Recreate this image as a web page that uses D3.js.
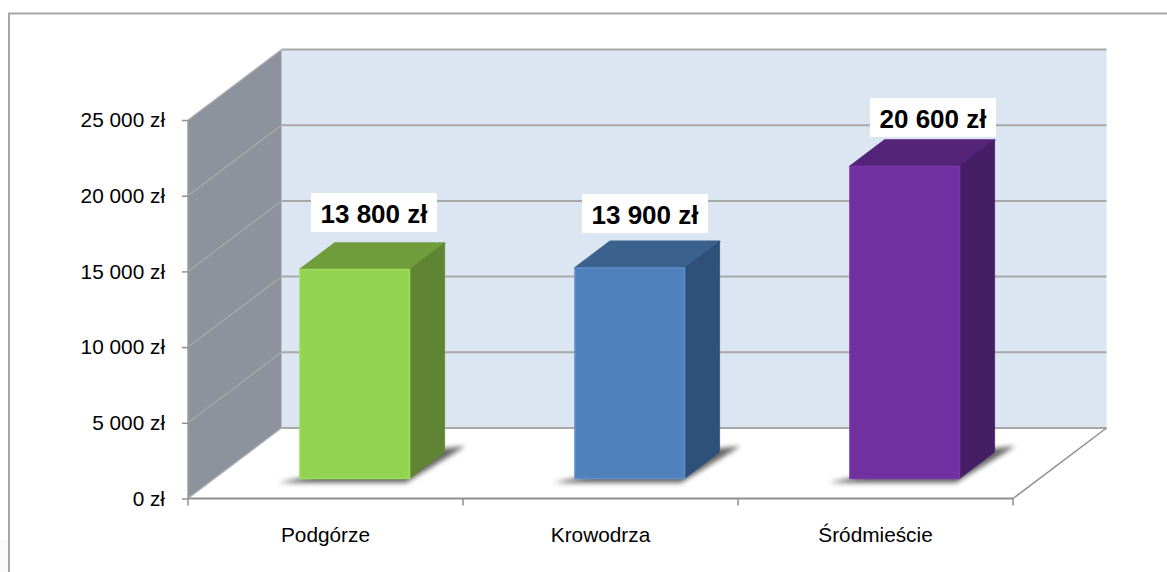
<!DOCTYPE html>
<html><head><meta charset="utf-8">
<script src="https://cdnjs.cloudflare.com/ajax/libs/d3/7.8.5/d3.min.js"></script>
<style>html,body{margin:0;padding:0;background:#fff;overflow:hidden}svg{display:block}text{font-family:"Liberation Sans",Arial,sans-serif}</style>
</head><body><div id="c"></div>
<script>
const categories=["Podgórze","Krowodrza","Śródmieście"];
const values=[13800,13900,20600];
const valueLabels=["13 800 zł","13 900 zł","20 600 zł"];
const yTicks=[0,5000,10000,15000,20000,25000];
const yTickLabels=["0 zł","5 000 zł","10 000 zł","15 000 zł","20 000 zł","25 000 zł"];
const frontColors=["#92d351","#4f81bd","#7030a0"];
const topColors=["#6f9d3c","#3b618e","#532478"];
const sideColors=["#5f8433","#2f5179","#461e66"];
const edgeColors=["#9ddc5c","#5f8fc9","#7836a8"];

const W=1167,H=572;
const svg=d3.select("#c").append("svg").attr("width",W).attr("height",H);
const defs=svg.append("defs");
defs.append("filter").attr("id","blur").attr("x","-20%").attr("y","-60%").attr("width","140%").attr("height","220%")
  .append("feGaussianBlur").attr("stdDeviation",2.8);

const x=d3.scaleBand().domain(categories).range([188,1013]);
const y=d3.scaleLinear().domain([0,25000]).range([498.5,120]);
const depthX=d3.scaleLinear().domain([0,1]).range([0,93.5]);
const depthY=d3.scaleLinear().domain([0,1]).range([0,-70.5]);
const P=(px,v,d)=>[px+depthX(d),y(v)+depthY(d)];
const line=d3.line();
const poly=pts=>line(pts)+"Z";
const yMax=25000,x0=188,x1=1013;

// corner tint and outer frame
svg.append("rect").attr("x",0).attr("y",540).attr("width",8).attr("height",32).attr("fill","#fafafa");
svg.append("rect").attr("x",9).attr("y",13.5).attr("width",1200).attr("height",600)
  .attr("fill","#fff").attr("stroke","#a6a6a6").attr("stroke-width",2);

// back wall, side wall
svg.append("path").attr("d",poly([P(x0,0,1),P(x1,0,1),P(x1,yMax,1),P(x0,yMax,1)])).attr("fill","#dce6f2");
svg.append("path").attr("d",poly([P(x0,0,0),P(x0,0,1),P(x0,yMax,1),P(x0,yMax,0)])).attr("fill","#8c939c");

// gridlines on walls
svg.append("g").selectAll("line").data(yTicks).join("line")
  .attr("x1",d=>P(x0,d,1)[0]).attr("y1",d=>P(x0,d,1)[1]).attr("x2",d=>P(x1,d,1)[0]).attr("y2",d=>P(x1,d,1)[1])
  .attr("stroke","#a8a8a8").attr("stroke-width",2);
svg.append("g").selectAll("line").data(yTicks).join("line")
  .attr("x1",d=>P(x0,d,0)[0]).attr("y1",d=>P(x0,d,0)[1]).attr("x2",d=>P(x0,d,1)[0]).attr("y2",d=>P(x0,d,1)[1])
  .attr("stroke",d=>d===0||d===yMax?"#b4b4b4":"#a9a9a6").attr("stroke-width",1.3);
// floor edges and vertical axis
svg.append("line").attr("x1",P(x1,0,0)[0]).attr("y1",P(x1,0,0)[1]).attr("x2",P(x1,0,1)[0]).attr("y2",P(x1,0,1)[1]).attr("stroke","#8f8f8f").attr("stroke-width",1.5);
svg.append("line").attr("x1",x0).attr("y1",y(0)).attr("x2",x1).attr("y2",y(0)).attr("stroke","#8f8f8f").attr("stroke-width",2);
svg.append("line").attr("x1",x0).attr("y1",y(0)).attr("x2",x0).attr("y2",y(yMax)).attr("stroke","#9c9c9c").attr("stroke-width",1.5);

// axis ticks + labels
const yAxis=d3.axisLeft(y).tickValues(yTicks).tickSize(6).tickPadding(17).tickFormat((d,i)=>yTickLabels[i]);
const gy=svg.append("g").attr("transform",`translate(${x0},0)`).call(yAxis);
gy.select(".domain").remove();
gy.selectAll("line").attr("stroke","#8f8f8f").attr("stroke-width",1.5);
gy.selectAll("text").attr("fill","#000").style("font-size","20.8px").style("font-family",'"Liberation Sans",Arial,sans-serif');

const xTickPos=[...categories.map(c=>x(c)),x1];
svg.append("g").selectAll("line").data(xTickPos).join("line")
  .attr("x1",d=>d).attr("x2",d=>d).attr("y1",y(0)).attr("y2",y(0)+7).attr("stroke","#8f8f8f").attr("stroke-width",1.5);
svg.append("g").selectAll("text").data(categories).join("text")
  .attr("x",c=>x(c)+x.bandwidth()/2).attr("y",541.5).attr("text-anchor","middle").attr("fill","#000")
  .style("font-size","20.8px").text(c=>c);

// bars
const dFront=0.2845,dBack=0.66,barW=109.5;
const bar=svg.append("g").selectAll("g").data(categories).join("g");
bar.each(function(c,i){
  const g=d3.select(this),v=values[i];
  const l=x(c)+x.bandwidth()/2-52.1,r=l+barW;
  // shadow on the floor
  g.append("path").attr("filter","url(#blur)").attr("fill","#4a4a4a").attr("opacity",.85)
    .attr("d",poly([P(l-16,0,dFront-.06),P(r+2,0,dFront-.06),P(r+13,0,dBack+.085),P(r-6,0,dBack+.05)]));
  // top
  g.append("path").attr("fill",topColors[i]).attr("stroke",topColors[i]).attr("stroke-linejoin","round").attr("stroke-width",1.8)
    .attr("d",poly([P(l,v,dFront),P(r,v,dFront),P(r,v,dBack),P(l,v,dBack)]));
  // side
  g.append("path").attr("fill",sideColors[i]).attr("stroke",sideColors[i]).attr("stroke-width",.8)
    .attr("d",poly([P(r,0,dFront),P(r,0,dBack),P(r,v,dBack),P(r,v,dFront)]));
  // front
  g.append("path").attr("fill",frontColors[i]).attr("stroke",edgeColors[i]).attr("stroke-width",1.6).attr("stroke-linejoin","round")
    .attr("d",poly([P(l,0,dFront),P(r,0,dFront),P(r,v,dFront),P(l,v,dFront)]));
});

// value labels
const labelX=[374,645,933];
const labelBottom=[232,233,137];
const lab=svg.append("g").selectAll("g").data(valueLabels).join("g");
lab.append("rect").attr("x",(d,i)=>labelX[i]-63).attr("y",(d,i)=>labelBottom[i]-39).attr("width",126).attr("height",39).attr("fill","#fff");
lab.append("text").attr("x",(d,i)=>labelX[i]).attr("y",(d,i)=>labelBottom[i]-9.5).attr("text-anchor","middle")
  .attr("font-weight","bold").attr("fill","#000").style("font-size","26px").text(d=>d);
</script></body></html>
